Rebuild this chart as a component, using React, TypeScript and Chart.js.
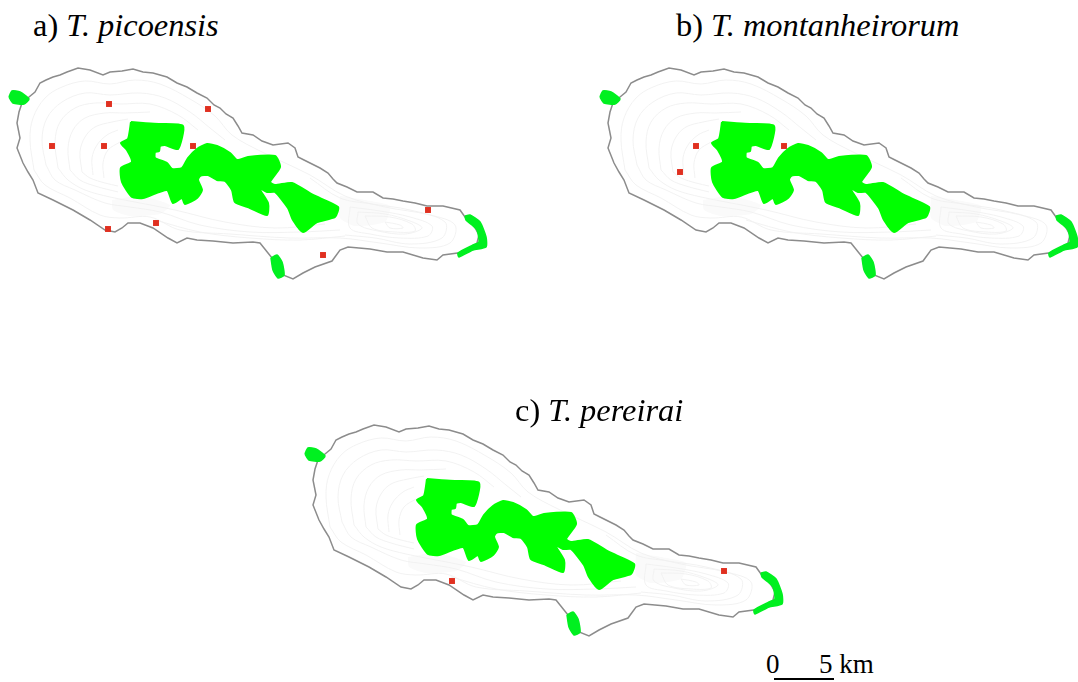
import React, { useEffect, useRef } from "react";
import { Chart, registerables } from "chart.js";

Chart.register(...registerables);

type P = [number, number];

const coastline: P[] = [
  [29,97],[35,92],[40,83],[46,80],[53,77],[60,75],[67,72],[78,68],[90,70],[103,75],[110,72],[122,71],[133,69],[143,72],[153,73],[167,77],
  [177,83],[187,87],[197,93],[207,98],[214,105],[220,108],[226,114],[233,118],[238,126],[242,133],[253,135],[262,141],[273,145],[288,143],[295,148],[298,157],
  [304,160],[310,163],[320,168],[328,173],[333,179],[337,183],[347,187],[357,192],[373,192],[383,198],[393,199],[403,201],[415,203],[427,206],[443,206],[460,210],
  [465,217],[474,226],[479,235],[477,243],[465,252],[443,255],[437,260],[423,258],[403,252],[387,252],[370,249],
  [348,247],[340,250],[332,261],[315,267],[303,273],[293,279],[283,275],[272,258],[260,243],[253,242],[233,243],
  [213,241],[197,240],[187,238],[177,243],[168,238],[153,228],[140,223],[128,223],[122,228],[115,232],[105,230],
  [90,220],[73,210],[53,200],[38,193],[33,180],[28,172],[23,163],[17,148],[20,138],[17,123],[19,112],[22,103],[29,97],
];

const forest: P[] = [
  [131,122],[143,123],[160,124],[183,126],[178,149],[165,145],[160,146],[159,151],[155,152],[155,158],[167,163],
  [172,169],[182,168],[188,158],[197,149],[207,144],[217,146],[230,153],[237,160],[248,157],[275,156],[280,167],
  [270,182],[275,185],[292,183],[313,195],[338,207],[335,217],[317,222],[303,232],[293,220],[288,208],[275,192],
  [267,192],[259,188],[268,203],[267,215],[250,208],[235,202],[232,190],[225,181],[217,180],[208,175],[200,176],[198,180],
  [202,190],[197,198],[185,204],[182,198],[173,203],[167,190],[143,198],[132,197],[122,182],[121,168],[132,162],
  [127,150],[121,143],[128,139],[131,122],
];

const westIslet: P[] = [[9,97],[12,91],[20,92],[29,99],[24,104],[13,103],[9,97]];
const southIslet: P[] = [[271,258],[277,255],[282,262],[284,275],[278,278],[273,270],[271,258]];
const eastShore: P[] = [
  [465,216],[470,215],[480,222],[486,237],[486,247],[473,250],[459,257],[458,253],[473,245],[479,242],[477,230],
  [472,225],[466,220],[465,216],
];

const shadeWest: P[] = [[112,200],[140,196],[170,205],[160,214],[130,216],[113,210],[112,200]];
const shadeEast: P[] = [[340,196],[365,200],[390,206],[385,222],[355,226],[340,218],[340,196]];

const contours: P[][] = [
  [[34,170],[30,140],[33,118],[45,98],[62,87],[85,81],[110,84],[135,80],[160,84],[190,99],[215,116],[232,135],[262,152],[310,175],[345,196],[385,207],[430,215],[455,225],[450,243],[420,248],[380,243],[340,238],[290,238],[230,234],[180,230],[150,217],[120,218],[100,215],[70,198],[45,185],[34,170]],
  [[46,165],[42,140],[47,118],[62,102],[85,93],[110,95],[140,93],[165,98],[190,112],[210,128],[225,140]],
  [[58,168],[55,142],[60,122],[75,108],[95,103],[120,104],[150,104],[178,115],[198,130]],
  [[70,170],[68,148],[73,130],[85,118],[105,113],[125,113],[150,112]],
  [[82,172],[80,152],[85,137],[95,127],[112,122],[128,119]],
  [[93,175],[92,158],[97,145],[107,135],[118,130]],
  [[104,178],[103,163],[108,150],[120,142]],
  [[46,165],[55,180],[75,190],[105,203],[130,207],[160,212],[200,225],[250,232],[300,232],[340,230]],
  [[58,168],[68,180],[85,190],[110,197],[135,202],[175,210],[225,222],[275,228],[325,224]],
  [[70,170],[80,180],[95,186],[118,192]],
  [[82,172],[90,178],[105,183],[118,186]],
  [[155,220],[200,232],[250,238],[300,240],[345,236]],
  [[310,178],[340,198],[372,204],[410,210],[445,222],[442,238],[410,244],[375,238],[345,235]],
  [[350,207],[380,211],[410,217],[432,226],[428,236],[400,238],[370,234],[350,228],[350,207]],
  [[358,212],[385,214],[410,221],[422,228],[405,234],[378,231],[358,224],[358,212]],
  [[365,216],[390,217],[412,224],[415,231],[395,232],[372,228],[365,216]],
  [[385,222],[400,225],[403,228],[390,228],[385,222]],
];

const picoensisSites: P[] = [[109,104],[208,109],[52,146],[104,146],[193,146],[108,229],[156,223],[323,255],[428,210]];
const montanheirorumSites: P[] = [[105,146],[89,172],[193,146]];
const pereiraiSites: P[] = [[156,224],[428,214]];

const panelTitles: [string, string][] = [["a)", "T. picoensis"], ["b)", "T. montanheirorum"], ["c)", "T. pereirai"]];
const scaleStart = "0";
const scaleEnd = "5 km";

const XMAX = 488;
const YMIN = 60;
const YMAX = 290;
const W = XMAX;
const H = YMAX - YMIN;
const serif = '"Liberation Serif", serif';

const toXY = (pts: P[]) => pts.map(([x, y]) => ({ x, y }));

function MapPanel({ sites, left, top }: { sites: P[]; left: number; top: number }) {
  const ref = useRef<HTMLCanvasElement>(null);
  useEffect(() => {
    const shape = (pts: P[], color: string, bw = 1.5) => ({
      data: toXY(pts), showLine: true, fill: "shape", backgroundColor: color, borderColor: color,
      borderWidth: bw, pointRadius: 0, tension: 0.2, clip: false,
    });
    const chart = new Chart(ref.current!, {
      type: "scatter",
      data: {
        // the first dataset is painted last, so the list runs from top to bottom
        datasets: [
          { data: toXY(sites), showLine: false, backgroundColor: "#e03020", borderWidth: 0, pointStyle: "rect", pointRadius: 4.2, clip: false },
          shape(forest, "#00ff00", 2),
          shape(westIslet, "#00f020"),
          shape(southIslet, "#00f020"),
          shape(eastShore, "#00f020"),
          { data: toXY(coastline), showLine: true, fill: false, borderColor: "#8c8c8c", borderWidth: 1.5, pointRadius: 0, clip: false },
          ...contours.map((c) => ({
            data: toXY(c), showLine: true, fill: false, borderColor: "#f1f1f1", borderWidth: 0.9, pointRadius: 0, tension: 0.35, clip: false,
          })),
          shape(shadeWest, "#fafafa", 0),
          shape(shadeEast, "#fafafa", 0),
        ] as any,
      },
      options: {
        responsive: false, animation: false, devicePixelRatio: 1,
        layout: { padding: 0, autoPadding: false },
        plugins: { legend: { display: false }, tooltip: { enabled: false }, title: { display: false } },
        scales: {
          x: { type: "linear", display: false, min: 0, max: XMAX },
          y: { type: "linear", display: false, min: YMIN, max: YMAX, reverse: true },
        },
      },
    });
    return () => chart.destroy();
  }, [sites]);
  return <canvas ref={ref} width={W} height={H} style={{ position: "absolute", left, top, width: W, height: H }} />;
}

function Label({ left, baseline, size, children }: { left: number; baseline: number; size: number; children: React.ReactNode }) {
  return (
    <div style={{ position: "absolute", left, top: baseline - 0.937 * size, fontFamily: serif, fontSize: size, lineHeight: `${size * 1.2}px`, whiteSpace: "pre", color: "#000" }}>
      {children}
    </div>
  );
}

export default function App() {
  return (
    <div style={{ position: "absolute", left: 0, top: 0, width: 1078, height: 682, overflow: "hidden", background: "#fff" }}>
      <MapPanel sites={picoensisSites} left={0} top={YMIN} />
      <MapPanel sites={montanheirorumSites} left={591} top={YMIN} />
      <MapPanel sites={pereiraiSites} left={296} top={YMIN + 357} />
      <Label left={33} baseline={36} size={32.4}>{panelTitles[0][0]} <i>{panelTitles[0][1]}</i></Label>
      <Label left={676} baseline={36} size={32.4}>{panelTitles[1][0]} <i>{panelTitles[1][1]}</i></Label>
      <Label left={515} baseline={421} size={32.4}>{panelTitles[2][0]} <i>{panelTitles[2][1]}</i></Label>
      <Label left={766} baseline={673} size={27}>{scaleStart}</Label>
      <Label left={819} baseline={673} size={27}>{scaleEnd}</Label>
      <div style={{ position: "absolute", left: 774, top: 678, width: 60, height: 2, background: "#000" }} />
    </div>
  );
}
